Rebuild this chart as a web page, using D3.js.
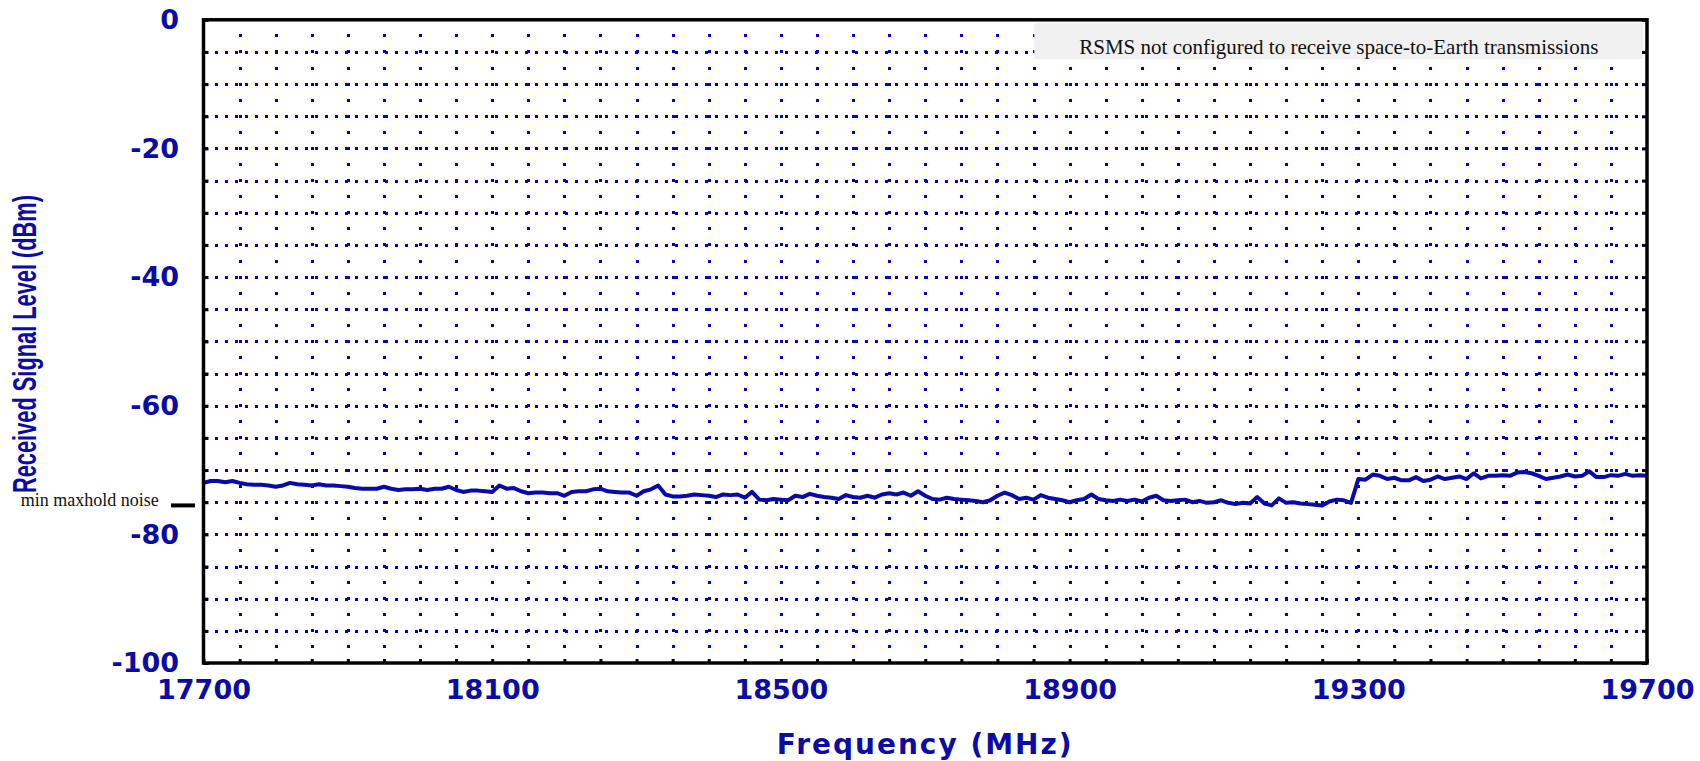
<!DOCTYPE html>
<html>
<head>
<meta charset="utf-8">
<title>Received Signal Level 17700 - 19700 MHz</title>
<script src="https://cdn.jsdelivr.net/npm/d3@7"></script>
<style>
    body { margin: 0; background: #fff; }
</style>
</head>
<body>
<div id="display"></div>
<script>
// Measured maxhold trace, one reading every 10 MHz from 17700 MHz (dBm)
let startFrequency = 17700;
let frequencyStep = 10;
let signalLevel = [
    -72.0, -71.7, -71.7, -71.9, -71.7, -72.0, -72.2, -72.3, -72.3, -72.4,
    -72.6, -72.4, -72.0, -72.2, -72.3, -72.4, -72.2, -72.4, -72.4, -72.5,
    -72.6, -72.8, -72.9, -72.9, -72.9, -72.6, -72.9, -73.1, -73.0, -73.0,
    -72.9, -73.1, -72.9, -72.9, -72.6, -73.1, -73.4, -73.2, -73.2, -73.3,
    -73.4, -72.4, -72.9, -72.8, -73.3, -73.6, -73.5, -73.5, -73.6, -73.6,
    -74.0, -73.4, -73.3, -73.3, -73.0, -72.9, -73.3, -73.4, -73.5, -73.5,
    -74.0, -73.3, -73.0, -72.4, -73.8, -74.1, -74.1, -74.0, -73.8, -73.9,
    -74.0, -74.2, -73.8, -73.9, -73.8, -74.3, -73.4, -74.6, -74.7, -74.5,
    -74.6, -74.7, -74.0, -74.2, -73.7, -74.0, -74.2, -74.3, -74.5, -73.9,
    -74.2, -74.3, -74.0, -74.3, -73.8, -73.6, -73.8, -73.5, -74.0, -73.3,
    -74.0, -74.5, -74.6, -74.3, -74.5, -74.6, -74.7, -74.8, -75.0, -74.7,
    -74.0, -73.5, -73.9, -74.5, -74.3, -74.6, -73.9, -74.3, -74.5, -74.7,
    -75.0, -74.7, -74.5, -73.8, -74.5, -74.7, -74.8, -74.6, -74.8, -74.6,
    -74.9, -74.3, -74.0, -74.7, -74.8, -74.7, -74.6, -75.0, -74.8, -75.1,
    -75.0, -74.7, -75.1, -75.3, -75.1, -75.2, -74.2, -75.2, -75.5, -74.4,
    -75.1, -75.0, -75.2, -75.3, -75.4, -75.5, -74.9, -74.6, -74.7, -75.1,
    -71.4, -71.5, -70.7, -70.9, -71.4, -71.2, -71.6, -71.6, -71.1, -71.7,
    -71.5, -71.0, -71.4, -71.2, -71.0, -71.4, -70.5, -71.3, -70.9, -70.9,
    -70.8, -70.9, -70.4, -70.3, -70.5, -70.9, -71.4, -71.2, -71.0, -70.7,
    -71.0, -70.9, -70.2, -71.1, -71.1, -70.8, -70.9, -70.6, -70.9, -70.8,
    -70.9
];

let xTicks = [17700, 18100, 18500, 18900, 19300, 19700];
let yTicks = [0, -20, -40, -60, -80, -100];
let noiseFloor = -75.5;
let noiseLabel = "min maxhold noise";
let note = "RSMS not configured to receive space-to-Earth transmissions";
let xTitle = "Frequency (MHz)";
let yTitle = "Received Signal Level (dBm)";

// Layout
let renderParams = {
    width: 1700,
    height: 761,
    left: 203.5,
    right: 1647,
    top: 19.8,
    bottom: 663
};

let style = {
    frame: "black",
    grid: "#0000c8",
    trace: "#0a0aa8",
    text: "#0b0ba5",
    noteFill: "#f0f0f0",
    labelFont: "'DejaVu Sans', Verdana, sans-serif",
    serifFont: "'Liberation Serif', 'Times New Roman', serif"
};

let svg, x, y;

/**
 * Builds scales and the svg
 */
function prepare() {
    x = d3.scaleLinear().domain([17700, 19700]).range([renderParams.left, renderParams.right]);
    y = d3.scaleLinear().domain([-100, 0]).range([renderParams.bottom, renderParams.top]);

    svg = d3.select("div#display").append("svg")
        .attr("width", renderParams.width)
        .attr("height", renderParams.height);
}

/** Dotted blue grid, 5 dB by 50 MHz */
function renderGrid() {
    let g = svg.append("g")
        .attr("stroke", style.grid).attr("stroke-width", 3).attr("fill", "none")
        .attr("shape-rendering", "crispEdges");

    let rowStep = (y(-5) - y(0)) / 2;
    g.selectAll("line.v").data(x.ticks(40).slice(1, -1)).enter().append("line")
        .attr("class", "v")
        .attr("x1", d => Math.round(x(d)) + 0.5).attr("x2", d => Math.round(x(d)) + 0.5)
        .attr("y1", renderParams.top).attr("y2", renderParams.bottom)
        .attr("stroke-dasharray", `3 ${rowStep - 3}`)
        .attr("stroke-dashoffset", 1.5);

    g.selectAll("line.h").data(y.ticks(20).slice(1, -1)).enter().append("line")
        .attr("class", "h")
        .attr("x1", renderParams.left).attr("x2", renderParams.right)
        .attr("y1", d => Math.round(y(d)) + 0.5).attr("y2", d => Math.round(y(d)) + 0.5)
        .attr("stroke-dasharray", "3 7")
        .attr("stroke-dashoffset", 8.3);
}

/** Grey note box in the upper right corner */
function renderNote() {
    let boxRight = renderParams.right - 3.7;
    let boxLeft = 1034.3;
    let g = svg.append("g");
    g.append("rect")
        .attr("x", boxLeft).attr("y", 23.3)
        .attr("width", boxRight - boxLeft).attr("height", 35.7)
        .attr("fill", style.noteFill);
    g.append("text")
        .attr("x", (boxLeft + boxRight) / 2).attr("y", 54)
        .attr("text-anchor", "middle")
        .attr("font-family", style.serifFont).attr("font-size", 21)
        .attr("fill", "#111")
        .text(note);
}

/** Signal trace */
function renderTrace() {
    let line = d3.line()
        .x((d, i) => x(startFrequency + i * frequencyStep))
        .y(d => y(d));

    svg.append("path")
        .datum(signalLevel)
        .attr("d", line)
        .attr("fill", "none")
        .attr("stroke", style.trace)
        .attr("stroke-width", 4)
        .attr("stroke-linejoin", "round");
}

/** Frame, inner ticks, labels and titles */
function renderAxes() {
    // Black frame
    svg.append("rect")
        .attr("x", renderParams.left).attr("y", renderParams.top)
        .attr("width", renderParams.right - renderParams.left)
        .attr("height", renderParams.bottom - renderParams.top)
        .attr("fill", "none").attr("stroke", style.frame).attr("stroke-width", 3.5);

    // Small black ticks on the inside of the frame
    let tickAxes = [
        [d3.axisLeft(y).ticks(20).tickSize(-5), `translate(${renderParams.left},0)`],
        [d3.axisRight(y).ticks(20).tickSize(-5), `translate(${renderParams.right},0)`],
        [d3.axisBottom(x).ticks(40).tickSize(-4), `translate(0,${renderParams.bottom})`]
    ];
    tickAxes.forEach(([axis, t]) => {
        let g = svg.append("g").attr("transform", t).call(axis.tickFormat(""));
        g.select(".domain").remove();
        g.selectAll("line").attr("stroke", style.frame).attr("stroke-width", 3);
    });

    // Y labels, plain hyphen for negatives
    let yAxis = svg.append("g")
        .attr("transform", `translate(${renderParams.left},0)`)
        .call(d3.axisLeft(y).tickValues(yTicks).tickSize(0).tickPadding(24.5).tickFormat(d => String(d)));
    yAxis.select(".domain").remove();

    // X labels
    let xAxis = svg.append("g")
        .attr("transform", `translate(0,${renderParams.bottom})`)
        .call(d3.axisBottom(x).tickValues(xTicks).tickSize(0).tickPadding(16.8).tickFormat(d => String(d)));
    xAxis.select(".domain").remove();

    svg.selectAll(".tick text")
        .attr("font-family", style.labelFont)
        .attr("font-weight", "bold")
        .attr("font-size", 27)
        .attr("fill", style.text);

    // Axis titles
    svg.append("text")
        .attr("x", (renderParams.left + renderParams.right) / 2).attr("y", 754)
        .attr("text-anchor", "middle")
        .attr("font-family", style.labelFont).attr("font-weight", "bold")
        .attr("font-size", 28).attr("letter-spacing", 2)
        .attr("fill", style.text)
        .text(xTitle);

    svg.append("text")
        .attr("transform", "translate(36,344) rotate(-90)")
        .attr("text-anchor", "middle")
        .attr("font-family", "'Liberation Sans', Arial, sans-serif").attr("font-weight", "bold")
        .attr("font-size", 34)
        .attr("textLength", 298).attr("lengthAdjust", "spacingAndGlyphs")
        .attr("fill", style.text)
        .text(yTitle);

    // Minimum maxhold noise marker left of the plot
    svg.append("line")
        .attr("x1", 171).attr("x2", 195)
        .attr("y1", y(noiseFloor)).attr("y2", y(noiseFloor))
        .attr("stroke", "black").attr("stroke-width", 4);
    svg.append("text")
        .attr("x", 20.7).attr("y", y(noiseFloor) + 0.5)
        .attr("font-family", style.serifFont).attr("font-size", 18)
        .attr("fill", "#111")
        .text(noiseLabel);
}

prepare();
renderGrid();
renderNote();
renderTrace();
renderAxes();
</script>
</body>
</html>
